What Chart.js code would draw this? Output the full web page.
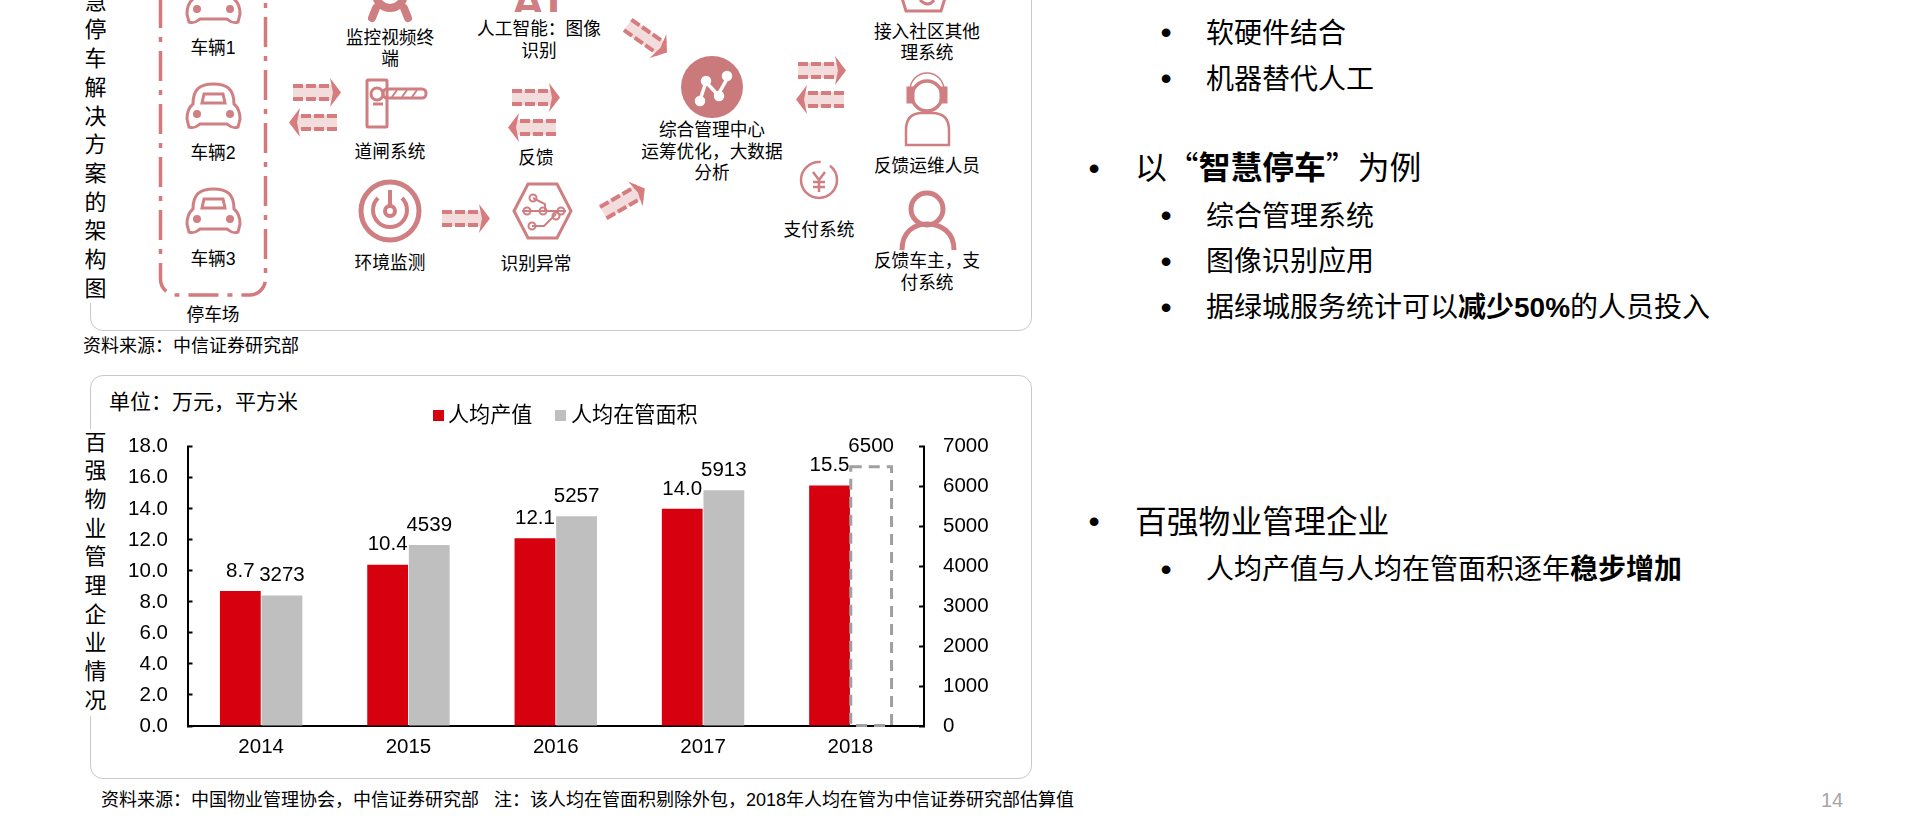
<!DOCTYPE html>
<html>
<head>
<meta charset="utf-8">
<title>智慧停车</title>
<script src="https://cdn.jsdelivr.net/npm/chart.js@4/dist/chart.umd.min.js"></script>
<style>
html, body { margin: 0; padding: 0; background: #fff; }
body { position: relative; width: 1920px; height: 829px; overflow: hidden; color: #000;
  font-family: "Liberation Sans", "Noto Sans CJK SC", sans-serif; }
.abs { position: absolute; white-space: nowrap; }
.card { position: absolute; left: 90px; width: 942px; box-sizing: border-box; border: 1.5px solid #c9c9c9; border-radius: 13px; }
.vert { position: absolute; left: 84px; width: 23px; font-size: 22px; line-height: 28.7px; text-align: center; background: #fff; white-space: normal; word-break: break-all; }
.lab { position: absolute; transform: translate(-50%, -50%); font-size: 17.7px; line-height: 21.7px; text-align: center; white-space: nowrap; }
.src { position: absolute; font-size: 18px; line-height: 22px; white-space: nowrap; transform: translateY(-50%); }
.l1, .l2 { position: absolute; white-space: nowrap; transform: translateY(-50%); }
.l1 { left: 1135px; font-size: 31.8px; }
.l2 { left: 1206px; font-size: 28px; }
.cjk { font-family: "Noto Sans CJK SC", sans-serif; }
.dot { position: absolute; transform: translate(-50%, -50%); font-size: 32px; }
#diagram { position: absolute; left: 0; top: 0; }
#chartBox { position: absolute; left: 100px; top: 410px; width: 930px; height: 370px; }
.leg { position: absolute; font-size: 21.1px; line-height: 24px; top: 403px; white-space: nowrap; }
.legBox { position: absolute; width: 11px; height: 11px; top: 410px; }
</style>
</head>
<body>

<div class="card" style="top:-100px;height:431px"></div>
<div class="card" style="top:375px;height:404px"></div>

<svg id="diagram" width="1920" height="829" xmlns="http://www.w3.org/2000/svg">
  <defs>
    <g id="arrow">
      <rect x="0" y="7" width="42" height="15" fill="#f3dcdc"/>
      <path d="M0 8H42M0 21H42" stroke="#d67c7e" stroke-width="4" stroke-dasharray="10 3" fill="none"/>
      <path d="M37 0L48 14.500L37 29L40 14.500Z" fill="#d67c7e"/>
    </g>
    <g id="car" fill="none" stroke="#d08083" stroke-width="3">
      <path d="M7 21C7 6 14 1 27.500 1C41 1 48 6 48 21C53 25 54 30 54 36L52 44C46 46 44 43 41 41H14C11 43 9 46 3 44L1 36C1 30 2 25 7 21Z"/>
      <path d="M16 20L18 11H37L39 20Z"/>
      <circle cx="11" cy="31" r="4" fill="#d08083" stroke="none"/>
      <circle cx="44" cy="31" r="4" fill="#d08083" stroke="none"/>
    </g>
  </defs>

  <!-- parking lot frame -->
  <rect x="160.500" y="-60" width="105" height="355" rx="16" fill="none" stroke="#d57a7c" stroke-width="3.500" stroke-dasharray="30 9 5 9"/>
  <use href="#car" x="186" y="-22"/>
  <use href="#car" x="186" y="83"/>
  <use href="#car" x="186" y="188"/>

  <!-- arrows -->
  <use href="#arrow" x="293" y="78"/>
  <use href="#arrow" transform="translate(337 108) scale(-1 1)"/>
  <use href="#arrow" x="512" y="83"/>
  <use href="#arrow" transform="translate(556 113) scale(-1 1)"/>
  <use href="#arrow" x="442" y="204"/>
  <use href="#arrow" transform="translate(636 13) rotate(35)"/>
  <use href="#arrow" transform="translate(596 200) rotate(-30)"/>
  <use href="#arrow" x="798" y="56"/>
  <use href="#arrow" transform="translate(844 85) scale(-1 1)"/>

  <!-- monitor terminal, cut by the top of the page -->
  <g fill="none" stroke="#cf7f81" stroke-width="8" stroke-linecap="round">
    <circle cx="390" cy="-6" r="14"/>
    <path d="M376 8L372 18M404 8L408 18"/>
  </g>

  <!-- barrier -->
  <g fill="none" stroke="#cf7f81" stroke-width="3">
    <rect x="367" y="80" width="20" height="47" rx="1"/>
    <circle cx="377" cy="94" r="6"/>
    <rect x="383" y="89" width="43" height="9" rx="4"/>
    <path d="M373 104H383" />
    <path d="M392 97L397 90M402 97L407 90M412 97L417 90" stroke-width="2"/>
  </g>

  <!-- environment monitor -->
  <g fill="none" stroke="#cf7f81">
    <circle cx="390" cy="211" r="29" stroke-width="5"/>
    <path d="M378 198A17 17 0 1 0 402 198" stroke-width="4"/>
    <path d="M390 190V206" stroke-width="4"/>
    <circle cx="390" cy="211" r="5" stroke-width="4"/>
  </g>

  <!-- hexagon -->
  <g fill="none" stroke="#cf7f81" stroke-width="2">
    <path d="M528 184H557L571 211L557 238H528L514 211Z" stroke-width="3"/>
    <path d="M533 198L545 204V211M522 211H566M532 226L544 226L556 214"/>
    <circle cx="533" cy="198" r="3.500"/><circle cx="527" cy="211" r="3.500"/><circle cx="543" cy="211" r="3.500"/><circle cx="561" cy="211" r="3.500"/><circle cx="532" cy="226" r="3.500"/><circle cx="556" cy="216" r="3.500"/>
  </g>

  <!-- management centre -->
  <circle cx="712" cy="87" r="31" fill="#cb7a7c"/>
  <g fill="none" stroke="#fff" stroke-width="3.500">
    <path d="M700 100L706 82L718 95L728 77"/>
    <circle cx="700" cy="101" r="3.500" fill="#fff"/><circle cx="706" cy="81" r="3.500" fill="#fff"/><circle cx="719" cy="96" r="3.500" fill="#fff"/><circle cx="727" cy="76" r="3.500" fill="#fff"/>
  </g>

  <!-- right column icons -->
  <g fill="none" stroke="#cf7f81" stroke-width="3">
    <path d="M902 -2L906 11H941L945 -2"/>
    <path d="M920 0Q928 8 934 0"/>
    <circle cx="819" cy="180" r="18" stroke-dasharray="86 10" stroke-width="2.500"/>
    <path d="M813 172L819 180L825 172M819 180V192M813 182H825M813 187H825" stroke-width="2.500"/>
    <circle cx="927" cy="96" r="15" stroke-width="3.500"/>
    <path d="M910 90A17 17 0 0 1 944 90" stroke-width="1.500"/>
    <rect x="908" y="88" width="5" height="14" fill="#cf7f81"/><rect x="941" y="88" width="5" height="14" fill="#cf7f81"/>
    <path d="M906 145V130Q906 113 922 113H932Q949 113 949 130V145Z" stroke-width="2.500"/>
    <circle cx="927" cy="209" r="16" stroke-width="5"/>
    <path d="M902 250C902 232 914 224 927 224C941 224 954 232 954 250" stroke-width="5"/>
  </g>
</svg>

<div class="abs" style="left:511px;top:-22px;font-size:47px;font-weight:bold;color:#cf7f81;line-height:47px;height:34px;overflow:hidden;letter-spacing:2px">AI</div>

<div class="vert" style="top:-41px">智慧停车解决方案的架构图</div>
<div class="vert" style="top:428.5px">百强物业管理企业情况</div>

<div class="lab" style="left:213px;top:48.5px">车辆1</div>
<div class="lab" style="left:213px;top:153.5px">车辆2</div>
<div class="lab" style="left:213px;top:260px">车辆3</div>
<div class="lab" style="left:213px;top:316px">停车场</div>
<div class="lab" style="left:390px;top:49.5px">监控视频终<br>端</div>
<div class="lab" style="left:539px;top:41px">人工智能：图像<br>识别</div>
<div class="lab" style="left:390px;top:153px">道闸系统</div>
<div class="lab" style="left:536px;top:159px">反馈</div>
<div class="lab" style="left:390px;top:264px">环境监测</div>
<div class="lab" style="left:536px;top:265px">识别异常</div>
<div class="lab" style="left:712px;top:153px">综合管理中心<br>运筹优化，大数据<br>分析</div>
<div class="lab" style="left:819px;top:231px">支付系统</div>
<div class="lab" style="left:927px;top:43.5px">接入社区其他<br>理系统</div>
<div class="lab" style="left:927px;top:167px">反馈运维人员</div>
<div class="lab" style="left:927px;top:273px">反馈车主，支<br>付系统</div>

<div class="src" style="left:83px;top:346px">资料来源：中信证券研究部</div>
<div class="src" style="left:101px;top:800px">资料来源：中国物业管理协会，中信证券研究部&nbsp;&nbsp;&nbsp;注：该人均在管面积剔除外包，2018年人均在管为中信证券研究部估算值</div>
<div class="abs" style="left:1821px;top:789px;font-size:20px;color:#a6a6a6">14</div>

<div class="abs" style="left:109px;top:389px;font-size:21px;line-height:26px">单位：万元，平方米</div>

<div id="chartBox"><canvas id="staffChart"></canvas></div>
<div id="legend"></div>

<div class="dot" style="left:1166px;top:32px">•</div><div class="l2" style="top:31px">软硬件结合</div>
<div class="dot" style="left:1166px;top:78px">•</div><div class="l2" style="top:77px">机器替代人工</div>
<div class="dot" style="left:1094px;top:168px">•</div><div class="l1" style="top:165px">以<span class="cjk">“</span><b>智慧停车</b><span class="cjk">”</span>为例</div>
<div class="dot" style="left:1166px;top:215px">•</div><div class="l2" style="top:214px">综合管理系统</div>
<div class="dot" style="left:1166px;top:261px">•</div><div class="l2" style="top:259px">图像识别应用</div>
<div class="dot" style="left:1166px;top:307px">•</div><div class="l2" style="top:305px">据绿城服务统计可以<b>减少50%</b>的人员投入</div>
<div class="dot" style="left:1094px;top:521px">•</div><div class="l1" style="top:519px">百强物业管理企业</div>
<div class="dot" style="left:1166px;top:569px">•</div><div class="l2" style="top:567px">人均产值与人均在管面积逐年<b>稳步增加</b></div>

<script>
const years = ["2014", "2015", "2016", "2017", "2018"];
const outputPerHead = [8.7, 10.4, 12.1, 14.0, 15.5];
const areaPerHead = [3273, 4539, 5257, 5913, 6500];
const seriesNames = ["人均产值", "人均在管面积"];
const seriesColors = ["#d7000f", "#bfbfbf"];
const estimatedYear = "2018"; // this area bar is only an estimate, drawn as a dashed box

const fontStack = '"Liberation Sans", "Noto Sans CJK SC", sans-serif';
const estimatedIndex = years.indexOf(estimatedYear);

// legend sits in html, chart.js leaves too big a gap between box and text
const legendSpots = [[433, 448], [555, 571]];
seriesNames.forEach(function (name, i) {
    const box = document.createElement("div");
    box.className = "legBox";
    box.style.left = legendSpots[i][0] + "px";
    box.style.background = seriesColors[i];
    const txt = document.createElement("div");
    txt.className = "leg";
    txt.style.left = legendSpots[i][1] + "px";
    txt.textContent = name;
    document.getElementById("legend").append(box, txt);
});

// value labels above the bars + dashed outline of the estimate
const barExtras = {
    id: "barExtras",
    afterDatasetsDraw(chart) {
        const ctx = chart.ctx;
        ctx.save();
        const est = chart.getDatasetMeta(1).data[estimatedIndex];
        ctx.strokeStyle = "#a0a0a0";
        ctx.lineWidth = 3;
        ctx.setLineDash([11, 7]);
        ctx.strokeRect(est.x - est.width / 2, est.y, est.width, est.base - est.y);
        ctx.setLineDash([]);

        ctx.fillStyle = "#000";
        ctx.font = "20.5px " + fontStack;
        ctx.textAlign = "center";
        ctx.textBaseline = "middle";
        chart.data.datasets.forEach(function (ds, d) {
            chart.getDatasetMeta(d).data.forEach(function (bar, i) {
                const text = d === 0 ? ds.data[i].toFixed(1) : String(ds.data[i]);
                ctx.fillText(text, bar.x, bar.y - 20);
            });
        });
        ctx.restore();
    }
};

new Chart(document.getElementById("staffChart"), {
    type: "bar",
    plugins: [barExtras],
    data: {
        labels: years,
        datasets: [
            {
                label: seriesNames[0],
                data: outputPerHead,
                yAxisID: "yOutput",
                backgroundColor: seriesColors[0]
            },
            {
                label: seriesNames[1],
                data: areaPerHead,
                yAxisID: "yArea",
                backgroundColor: years.map((y, i) => i === estimatedIndex ? "rgba(0,0,0,0)" : seriesColors[1])
            }
        ]
    },
    options: {
        responsive: true,
        maintainAspectRatio: false,
        animation: false,
        categoryPercentage: 0.565,
        barPercentage: 0.98,
        layout: { autoPadding: false, padding: { top: 14.5 } },
        plugins: { legend: { display: false }, tooltip: { enabled: false } },
        scales: {
            x: {
                grid: { display: false, drawTicks: false },
                border: { color: "#000", width: 2 },
                ticks: { color: "#000", font: { family: fontStack, size: 20.5 }, padding: 9, maxRotation: 0 },
                afterFit(scale) { scale.height = 54; }
            },
            yOutput: {
                position: "left",
                min: 0,
                max: 18,
                grid: { drawOnChartArea: false, color: "#000", tickLength: -5, tickWidth: 2 },
                border: { color: "#000", width: 2 },
                ticks: {
                    stepSize: 2,
                    color: "#000",
                    padding: 24.5,
                    font: { family: fontStack, size: 20.5 },
                    callback: v => v.toFixed(1)
                },
                afterFit(scale) { scale.width = 87.5; }
            },
            yArea: {
                position: "right",
                min: 0,
                max: 7000,
                grid: { drawOnChartArea: false, color: "#000", tickLength: -5, tickWidth: 2 },
                border: { color: "#000", width: 2 },
                ticks: {
                    stepSize: 1000,
                    color: "#000",
                    padding: 24,
                    font: { family: fontStack, size: 20.5 },
                    callback: v => String(v)
                },
                afterFit(scale) { scale.width = 106; }
            }
        }
    }
});
</script>
</body>
</html>
